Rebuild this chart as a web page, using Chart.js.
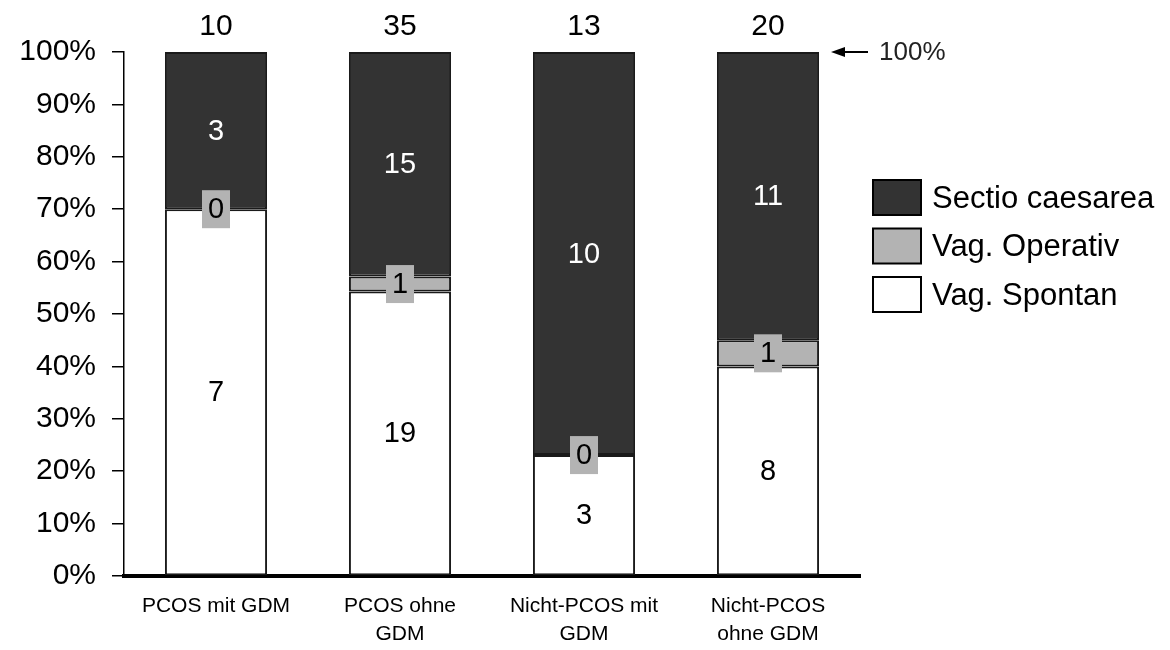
<!DOCTYPE html>
<html>
<head>
<meta charset="utf-8">
<script src="https://cdn.jsdelivr.net/npm/chart.js@4/dist/chart.umd.min.js"></script>
<style>
    html, body { margin: 0; padding: 0; background: #fff; }
    #wrap { width: 1170px; height: 650px; }
</style>
</head>
<body>
<div id="wrap"><canvas id="chart" width="1170" height="650"></canvas></div>
<script>
// data (counts per group)
var groups = [['PCOS mit GDM'], ['PCOS ohne', 'GDM'], ['Nicht-PCOS mit', 'GDM'], ['Nicht-PCOS', 'ohne GDM']];
var seriesNames = ['Vag. Spontan', 'Vag. Operativ', 'Sectio caesarea'];
var spontan = [7, 19, 3, 8];
var operativ = [0, 1, 0, 1];
var sectio = [3, 15, 10, 11];
var yTicks = [0, 10, 20, 30, 40, 50, 60, 70, 80, 90, 100];

var colors = ['#ffffff', '#b3b3b3', '#333333'];
var counts = [spontan, operativ, sectio];

var totals = [];
for (var i = 0; i < groups.length; i++) {
    totals.push(spontan[i] + operativ[i] + sectio[i]);
}

// share of each group, so the bars stack to 100%
function shares(arr) {
    var out = [];
    for (var i = 0; i < arr.length; i++) {
        out.push(arr[i] / totals[i] * 100);
    }
    return out;
}

var FONT = '"Liberation Sans", Arial, sans-serif';

var labelPlugin = {
    id: 'segLabels',
    afterDatasetsDraw: function(chart) {
        var ctx = chart.ctx;
        ctx.save();
        ctx.textAlign = 'center';
        ctx.textBaseline = 'middle';
        ctx.font = '29px ' + FONT;
        for (var d = 0; d < chart.data.datasets.length; d++) {
            var meta = chart.getDatasetMeta(d);
            for (var i = 0; i < meta.data.length; i++) {
                var el = meta.data[i];
                var cy = (el.y + el.base) / 2;
                if (d == 1) {
                    ctx.fillStyle = colors[1];
                    ctx.fillRect(el.x - 14, cy - 19, 28, 38);
                }
                ctx.fillStyle = d == 2 ? '#ffffff' : '#000000';
                ctx.fillText(String(counts[d][i]), el.x, cy + 1);
            }
        }
        // totals above the bars
        ctx.font = '30px ' + FONT;
        var top = chart.getDatasetMeta(2);
        for (var i = 0; i < top.data.length; i++) {
            ctx.fillStyle = '#000';
            ctx.fillText(String(totals[i]), top.data[i].x, top.data[i].y - 25);
        }
        // 100% marker
        var y100 = chart.scales.y.getPixelForValue(100);
        ctx.strokeStyle = '#000';
        ctx.lineWidth = 2;
        ctx.beginPath();
        ctx.moveTo(838, y100);
        ctx.lineTo(868, y100);
        ctx.stroke();
        ctx.fillStyle = '#000';
        ctx.beginPath();
        ctx.moveTo(831, y100);
        ctx.lineTo(845, y100 - 5);
        ctx.lineTo(845, y100 + 5);
        ctx.closePath();
        ctx.fill();
        ctx.textAlign = 'left';
        ctx.font = '26px ' + FONT;
        ctx.fillStyle = '#222';
        ctx.fillText('100%', 879, y100 + 1);

        // legend, top entry first
        ctx.font = '31px ' + FONT;
        var ds = chart.data.datasets;
        for (var k = 0; k < ds.length; k++) {
            var idx = ds.length - 1 - k;
            var by = 180 + k * 48.5;
            ctx.fillStyle = ds[idx].backgroundColor;
            ctx.fillRect(873, by, 48, 35);
            ctx.strokeStyle = '#000';
            ctx.lineWidth = 2;
            ctx.strokeRect(873, by, 48, 35);
            ctx.fillStyle = '#000';
            ctx.fillText(ds[idx].label, 932, by + 19);
        }
        ctx.restore();
    }
};

var datasets = [];
for (var d = 0; d < seriesNames.length; d++) {
    datasets.push({
        label: seriesNames[d],
        data: shares(counts[d]),
        backgroundColor: colors[d],
        borderColor: '#1a1a1a',
        borderWidth: 2,
        borderSkipped: false,
        categoryPercentage: 1,
        barPercentage: 0.555
    });
}

var chart = new Chart(document.getElementById('chart').getContext('2d'), {
    type: 'bar',
    data: { labels: groups, datasets: datasets },
    plugins: [labelPlugin],
    options: {
        responsive: false,
        animation: false,
        layout: { padding: { top: 52, right: 310, left: 0, bottom: 0 } },
        plugins: { legend: { display: false }, tooltip: { enabled: false } },
        scales: {
            x: {
                stacked: true,
                afterFit: function(scale) { scale.height = 74; },
                grid: { display: false, drawTicks: false, tickLength: 0 },
                border: { display: true, color: '#000', width: 4 },
                ticks: {
                    color: '#000',
                    padding: 17,
                    maxRotation: 0,
                    autoSkip: false,
                    font: { family: FONT, size: 21, lineHeight: 1.3 }
                }
            },
            y: {
                stacked: true,
                min: 0,
                max: 100,
                afterFit: function(scale) { scale.width = 124; },
                afterBuildTicks: function(scale) {
                    scale.ticks = yTicks.map(function(v) { return { value: v }; });
                },
                grid: { drawOnChartArea: false, drawTicks: true, tickLength: 12, color: '#000', lineWidth: 1.5 },
                border: { display: true, color: '#000', width: 1.5 },
                ticks: {
                    color: '#000',
                    padding: 16,
                    font: { family: FONT, size: 30 },
                    callback: function(v) { return v + '%'; }
                }
            }
        }
    }
});
</script>
</body>
</html>
